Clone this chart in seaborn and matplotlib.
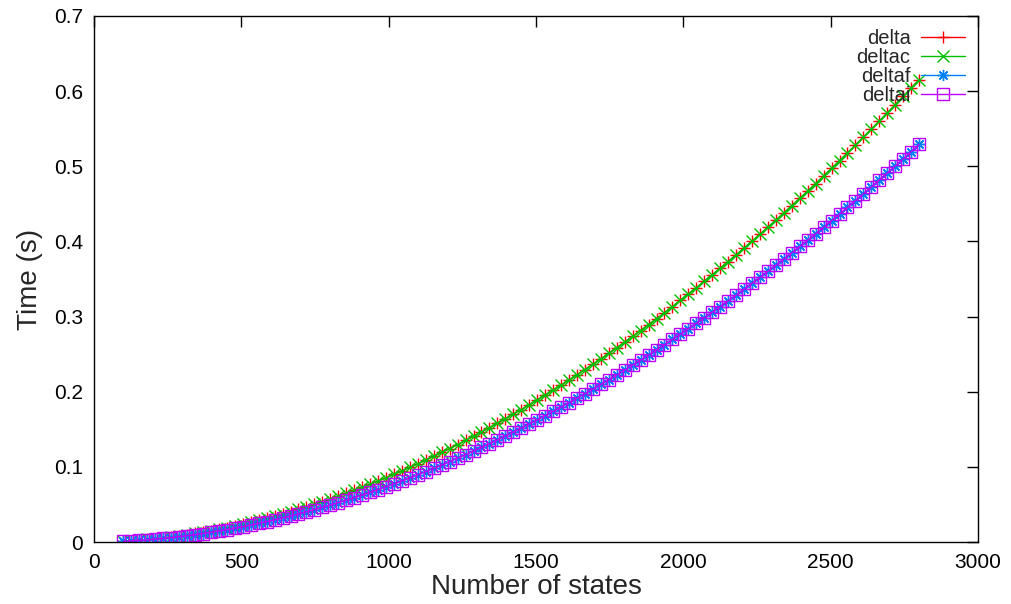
import numpy as np
import pandas as pd
import seaborn as sns
import matplotlib.pyplot as plt
from matplotlib.ticker import FuncFormatter, MultipleLocator

# Number of states (sampled every 27 states from 100 to 2800)
states = list(range(100, 2801, 27))

# Times (delta and deltac overlap, deltaf and deltai overlap)
delta_t = [
    0.0011, 0.0017, 0.0025, 0.0034, 0.0044, 0.0056, 0.0068, 0.0082, 0.0098, 0.0114,
    0.0132, 0.0150, 0.0170, 0.0192, 0.0214, 0.0238, 0.0262, 0.0288, 0.0315, 0.0343,
    0.0373, 0.0403, 0.0435, 0.0467, 0.0501, 0.0536, 0.0572, 0.0609, 0.0648, 0.0687,
    0.0727, 0.0769, 0.0812, 0.0855, 0.0900, 0.0946, 0.0993, 0.1041, 0.1090, 0.1140,
    0.1192, 0.1244, 0.1297, 0.1352, 0.1407, 0.1464, 0.1522, 0.1580, 0.1640, 0.1701,
    0.1762, 0.1825, 0.1889, 0.1954, 0.2020, 0.2087, 0.2155, 0.2225, 0.2295, 0.2366,
    0.2438, 0.2511, 0.2585, 0.2661, 0.2737, 0.2814, 0.2893, 0.2972, 0.3052, 0.3134,
    0.3216, 0.3300, 0.3384, 0.3470, 0.3556, 0.3643, 0.3732, 0.3821, 0.3912, 0.4003,
    0.4096, 0.4189, 0.4284, 0.4379, 0.4476, 0.4573, 0.4671, 0.4770, 0.4871, 0.4973,
    0.5075, 0.5178, 0.5283, 0.5388, 0.5495, 0.5602, 0.5710, 0.5819, 0.5929, 0.6041,
    0.6153,
]
deltac_t = list(delta_t)

deltaf_t = [
    0.0009, 0.0015, 0.0021, 0.0029, 0.0038, 0.0048, 0.0059, 0.0071, 0.0084, 0.0098,
    0.0113, 0.0129, 0.0147, 0.0165, 0.0184, 0.0204, 0.0226, 0.0248, 0.0271, 0.0295,
    0.0320, 0.0347, 0.0374, 0.0402, 0.0431, 0.0461, 0.0492, 0.0524, 0.0557, 0.0591,
    0.0625, 0.0661, 0.0698, 0.0735, 0.0774, 0.0813, 0.0854, 0.0895, 0.0937, 0.0981,
    0.1025, 0.1070, 0.1116, 0.1162, 0.1210, 0.1259, 0.1308, 0.1359, 0.1410, 0.1463,
    0.1516, 0.1570, 0.1625, 0.1681, 0.1737, 0.1795, 0.1854, 0.1913, 0.1973, 0.2035,
    0.2097, 0.2160, 0.2223, 0.2288, 0.2354, 0.2420, 0.2488, 0.2556, 0.2625, 0.2695,
    0.2766, 0.2838, 0.2910, 0.2984, 0.3058, 0.3133, 0.3210, 0.3286, 0.3364, 0.3443,
    0.3522, 0.3603, 0.3684, 0.3766, 0.3849, 0.3933, 0.4017, 0.4103, 0.4189, 0.4277,
    0.4365, 0.4453, 0.4543, 0.4634, 0.4725, 0.4818, 0.4910, 0.5004, 0.5099, 0.5195,
    0.5292,
]
deltai_t = list(deltaf_t)

series_names = ['delta', 'deltac', 'deltaf', 'deltai']
series_values = [delta_t, deltac_t, deltaf_t, deltai_t]
series_colors = ['#ff0000', '#00c000', '#0080ff', '#c000ff']
series_markers = ['+', 'x', (8, 2, 0), 's']

sns.set_theme(style='white')
plt.rcParams['font.family'] = ['Liberation Sans', 'DejaVu Sans']

fig = plt.figure(figsize=(10.11, 6.04), dpi=100)
ax = fig.add_axes([94 / 1011, 1 - 542 / 604, (978 - 94) / 1011, (542 - 16) / 604])

for name, vals, col, mk in zip(series_names, series_values, series_colors, series_markers):
    sns.lineplot(x=states, y=vals, ax=ax, color=col, marker=mk, markersize=8,
                 markeredgecolor=col, markerfacecolor='none', markeredgewidth=1,
                 linewidth=1, label=name)

ax.set_xlim(0, 3000)
ax.set_ylim(0, 0.7)
ax.xaxis.set_major_locator(MultipleLocator(500))
ax.yaxis.set_major_locator(MultipleLocator(0.1))
ax.yaxis.set_major_formatter(FuncFormatter(lambda v, p: f'{v:g}'))
ax.tick_params(direction='in', length=8, width=1, top=True, right=True,
               labelsize=15, colors='black', pad=8)
for s in ax.spines.values():
    s.set_color('black')
    s.set_linewidth(1)

ax.set_xlabel('Number of states', fontsize=20, labelpad=1)
ax.set_ylabel('Time (s)', fontsize=20, labelpad=8)

ax.legend(loc='upper right', frameon=False, markerfirst=False, fontsize=14.5,
          handlelength=2.2, handletextpad=0.5, labelspacing=0.0,
          borderaxespad=0.3, borderpad=0.35)

fig.savefig('out.png', dpi=100)
